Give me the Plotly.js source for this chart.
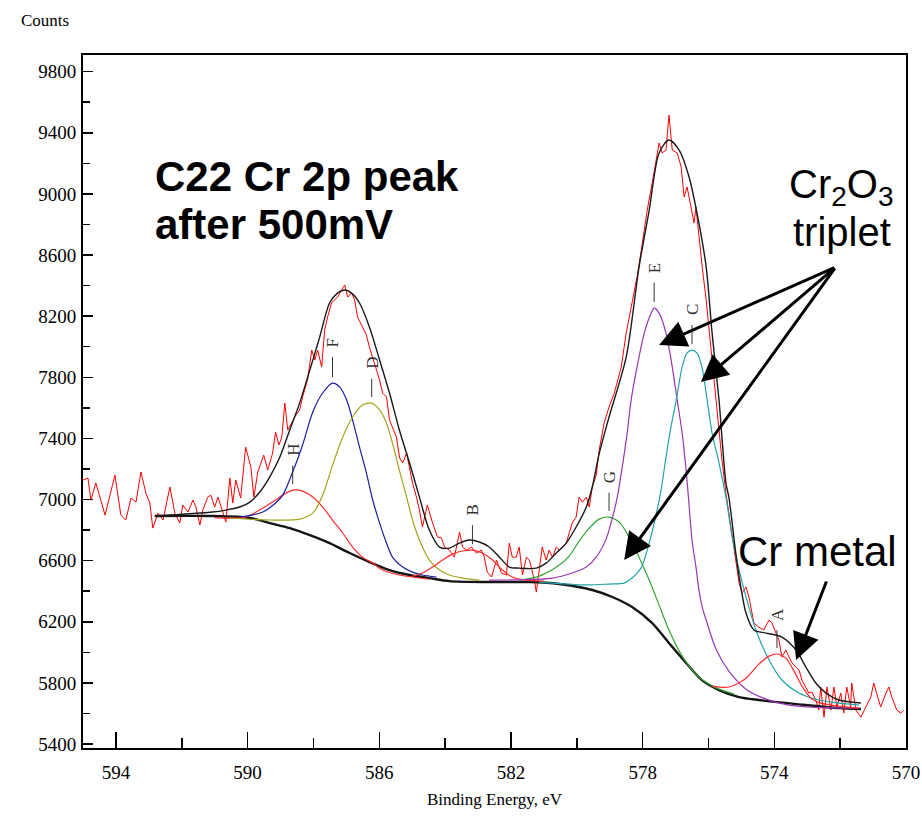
<!DOCTYPE html>
<html>
<head>
<meta charset="utf-8">
<script src="https://cdn.plot.ly/plotly-3.0.1.min.js"></script>
<style>html,body{margin:0;padding:0;background:#fff;}#chart{width:922px;height:818px;}</style>
</head>
<body>
<div id="chart"></div>
<script>
// Raw spectrum (binding energy eV, counts)
const rawX = [595.00,594.85,594.76,594.61,594.33,594.03,593.85,593.70,593.54,593.39,593.24,593.09,592.97,592.88,592.72,592.57,592.36,592.21,592.06,591.97,591.81,591.66,591.57,591.45,591.36,591.21,591.12,591.00,590.90,590.75,590.66,590.54,590.45,590.36,590.21,590.06,589.90,589.81,589.69,589.51,589.39,589.24,589.15,589.05,588.96,588.87,588.78,588.66,588.57,588.42,588.33,588.18,588.05,587.96,587.87,587.75,587.66,587.57,587.45,587.36,587.27,587.14,587.05,586.96,586.84,586.75,586.66,586.51,586.39,586.30,586.20,586.08,585.99,585.90,585.78,585.69,585.60,585.48,585.38,585.29,585.17,585.08,584.99,584.87,584.78,584.69,584.54,584.38,584.23,584.11,584.02,583.87,583.72,583.56,583.47,583.35,583.20,583.05,582.90,582.81,582.72,582.59,582.44,582.29,582.14,582.05,581.96,581.84,581.75,581.65,581.53,581.44,581.29,581.23,581.14,581.05,580.93,580.84,580.74,580.62,580.53,580.44,580.32,580.23,580.14,580.02,579.93,579.83,579.71,579.62,579.53,579.41,579.32,579.17,579.02,578.86,578.65,578.50,578.35,578.17,578.04,577.86,577.71,577.59,577.50,577.41,577.29,577.20,577.10,576.95,576.83,576.74,576.65,576.53,576.44,576.38,576.28,576.19,576.07,575.98,575.89,575.77,575.68,575.59,575.47,575.38,575.28,575.13,575.07,574.98,574.86,574.77,574.62,574.47,574.32,574.16,574.07,573.95,573.86,573.77,573.65,573.55,573.46,573.34,573.25,573.16,573.04,572.95,572.86,572.74,572.65,572.59,572.49,572.40,572.28,572.19,572.10,571.98,571.89,571.80,571.68,571.65,571.52,571.37,571.22,571.07,570.98,570.89,570.77,570.61,570.52,570.43,570.28,570.16,570.07];
const rawY = [7127,7141,6996,7108,6898,7160,6898,6866,7010,6983,7180,7042,6977,6813,6911,6866,7082,6911,6846,6964,6918,6996,6951,6833,6931,7016,7029,6951,7016,6918,6853,7141,6977,7127,7010,7343,7212,7016,7180,7291,7193,7304,7442,7357,7409,7631,7455,7501,7540,7586,7671,7782,7978,7913,7978,7867,8109,8194,8286,8306,8325,8371,8404,8325,8351,8306,8194,8129,8076,7998,7932,7847,7782,7697,7671,7520,7474,7409,7271,7239,7304,7193,7108,7016,6931,6820,6964,6846,6754,6748,6689,6669,6623,6787,6689,6669,6689,6650,6669,6623,6525,6493,6604,6519,6506,6715,6623,6623,6689,6506,6623,6604,6473,6394,6538,6689,6604,6669,6623,6689,6669,6689,6715,6781,6846,6885,7016,6983,7016,6951,7082,7160,7324,7500,7605,7697,7867,8089,8260,8456,8633,8895,9071,9222,9333,9268,9287,9516,9287,9268,9176,8980,9045,8914,8809,8914,8698,8521,8305,8089,7913,7651,7435,7258,7042,6911,6780,6538,6453,6388,6427,6362,6191,6165,6146,6211,6191,6126,6080,5969,6015,5969,5930,5903,5884,5818,5773,5733,5740,5688,5622,5773,5576,5773,5622,5773,5642,5733,5602,5773,5642,5799,5622,5576,5642,5707,5799,5733,5642,5733,5773,5707,5622,5602,5622];

// Fitted envelope
const envX = [592.82,591.06,590.66,590.24,589.93,589.63,589.33,589.02,588.72,588.42,588.11,587.81,587.51,587.27,587.05,586.84,586.60,586.30,585.99,585.69,585.39,585.08,584.78,584.48,584.17,583.87,583.57,583.26,582.96,582.66,582.35,582.05,581.75,581.23,580.93,580.62,580.32,580.02,579.71,579.53,579.32,579.02,578.50,578.11,577.80,577.50,577.20,576.89,576.59,576.29,576.07,575.89,575.68,575.47,575.38,575.13,574.86,574.62,574.25,573.77,573.34,573.04,572.74,572.43,572.04,571.37];
const envY = [6892,6918,6931,6951,6983,7049,7147,7278,7455,7631,7847,8063,8286,8351,8371,8351,8286,8129,7913,7697,7455,7239,7016,6800,6689,6682,6715,6735,6722,6689,6623,6558,6551,6551,6584,6650,6715,6820,6951,7082,7300,7540,7932,8521,8894,9268,9353,9287,9111,8809,8521,8089,7651,7108,7016,6584,6257,6146,6126,6100,6015,5903,5799,5733,5688,5668];

// Background
const bgX = [592.82,591.06,589.93,589.33,588.72,588.11,587.51,586.90,586.30,585.69,585.08,584.48,583.87,582.66,581.44,580.53,579.53,578.92,578.32,577.71,577.20,576.68,576.20,575.68,575.07,574.47,573.04,572.04,571.37];
const bgY = [6892,6892,6879,6846,6813,6767,6715,6650,6591,6538,6506,6486,6466,6460,6460,6447,6408,6362,6296,6191,6061,5930,5818,5753,5707,5688,5655,5635,5629];

// Components
const hX = [591.00,590.06,589.54,589.15,588.93,588.63,588.33,588.02,587.72,587.42,587.11,586.81,586.51,586.20,585.90,585.39,584.48];
const hY = [6882,6885,6944,6997,7029,7062,7055,7016,6951,6866,6781,6689,6623,6584,6539,6506,6479];
const fX = [590.24,589.54,589.15,588.93,588.63,588.33,588.02,587.72,587.42,587.20,586.99,586.81,586.60,586.39,586.20,585.99,585.78,585.60,585.29,584.99,584.69,584.26];
const fY = [6885,6918,6977,7029,7180,7357,7573,7697,7762,7736,7651,7520,7343,7173,6997,6846,6715,6623,6558,6525,6506,6493];
const dX = [590.54,589.33,588.42,588.02,587.72,587.42,587.11,586.81,586.51,586.23,585.99,585.78,585.60,585.39,585.17,584.99,584.78,584.48,584.17,583.87,583.47,582.96];
const dY = [6879,6866,6872,6911,7029,7225,7409,7540,7618,7631,7586,7500,7370,7193,7016,6866,6735,6604,6539,6506,6486,6473];
const bX = [585.08,584.69,584.38,584.08,583.78,583.47,583.17,582.87,582.56,582.26,581.96,581.59,580.99];
const bY = [6493,6519,6558,6604,6643,6663,6669,6650,6604,6539,6493,6473,6466];
const gX = [581.75,581.14,580.53,580.23,579.93,579.62,579.32,579.02,578.71,578.41,578.11,577.80,577.50,577.20,576.89,576.59,576.29,575.98,575.68,575.22];
const gY = [6473,6499,6571,6630,6728,6813,6872,6885,6852,6754,6623,6473,6309,6146,6008,5910,5838,5792,5759,5727];
const eX = [582.66,580.74,580.14,579.71,579.41,579.11,578.92,578.77,578.62,578.47,578.35,578.17,577.95,577.74,577.65,577.50,577.29,577.10,576.95,576.80,576.68,576.59,576.50,576.38,576.28,576.19,576.07,575.77,575.38,574.86,574.25,573.56,572.86,571.43];
const eY = [6473,6486,6519,6558,6623,6741,6879,7016,7212,7435,7651,7867,8089,8220,8253,8220,8089,7867,7651,7435,7193,6964,6735,6558,6394,6296,6211,6020,5877,5759,5694,5655,5642,5635];
const cX = [581.14,579.71,579.02,578.56,578.32,578.05,577.86,577.65,577.44,577.29,577.14,576.98,576.80,576.65,576.50,576.35,576.20,576.04,575.89,575.68,575.47,575.28,575.07,574.86,574.56,574.16,573.77,573.25,572.65,572.04,571.43];
const cY = [6460,6441,6447,6453,6486,6551,6669,6846,7062,7278,7474,7651,7867,7959,7978,7959,7867,7651,7435,7239,7016,6754,6539,6362,6146,5950,5819,5734,5688,5668,5655];
const aX = [575.89,575.38,574.86,574.47,574.16,573.92,573.65,573.40,573.16,572.86,572.59,572.04,571.43];
const aY = [5779,5773,5831,5923,5975,5989,5962,5877,5779,5694,5668,5648,5635];

const compNames = ['H','F','D','B','G','E','C','A'];
const compColors = ['#ff2a2a','#1c1ca0','#a3a31e','#ff2a2a','#33a533','#9b35b5','#22a3a8','#ff2a2a'];
const compData = [[hX,hY],[fX,fY],[dX,dY],[bX,bY],[gX,gY],[eX,eY],[cX,cY],[aX,aY]];

const xTicks = [594,590,586,582,578,574,570];

const serif = 'Liberation Serif, Times New Roman, serif';
const sans = 'Liberation Sans, Arial, sans-serif';

const traces = [];
traces.push({x: rawX, y: rawY, mode: 'lines', line: {color: '#ff0000', width: 1}, hoverinfo: 'skip'});
traces.push({x: bgX, y: bgY, mode: 'lines', line: {color: '#151515', width: 2.4, shape: 'spline', smoothing: 0.8}, hoverinfo: 'skip'});
compData.forEach((d, i) => {
  traces.push({x: d[0], y: d[1], mode: 'lines', line: {color: compColors[i], width: 1.2, shape: 'spline', smoothing: 0.8}, hoverinfo: 'skip'});
});
traces.push({x: envX, y: envY, mode: 'lines', line: {color: '#1a1a1a', width: 1.4, shape: 'spline', smoothing: 0.8}, hoverinfo: 'skip'});

const annotations = [];
// peak letter labels at each component's maximum
compData.forEach((d, i) => {
  let k = 0;
  d[1].forEach((v, j) => { if (v > d[1][k]) k = j; });
  annotations.push({
    x: d[0][k], y: d[1][k], xref: 'x', yref: 'y',
    text: compNames[i], textangle: -90, showarrow: true, arrowhead: 0,
    arrowwidth: 1, arrowcolor: '#333', ax: 0, ay: -40, standoff: 6, startstandoff: 8,
    font: {family: serif, size: 17, color: '#333'}
  });
});

const arrowStyle = {showarrow: true, arrowhead: 2, arrowsize: 1.8, arrowwidth: 3, arrowcolor: '#000', text: '', xref: 'x', yref: 'y', axref: 'x', ayref: 'y'};
annotations.push(Object.assign({}, arrowStyle, {x: 577.50, y: 8011, ax: 572.13, ay: 8522}));
annotations.push(Object.assign({}, arrowStyle, {x: 576.23, y: 7769, ax: 572.13, ay: 8522}));
annotations.push(Object.assign({}, arrowStyle, {x: 578.56, y: 6604, ax: 572.13, ay: 8522}));
annotations.push(Object.assign({}, arrowStyle, {x: 573.34, y: 5950, ax: 572.40, ay: 6473}));

annotations.push({xref: 'paper', yref: 'paper', x: 0.0851, y: 0.824, xanchor: 'left', yanchor: 'middle', showarrow: false,
  text: '<b>C22 Cr 2p peak</b>', font: {family: sans, size: 42, color: '#000'}});
annotations.push({xref: 'paper', yref: 'paper', x: 0.0851, y: 0.755, xanchor: 'left', yanchor: 'middle', showarrow: false,
  text: '<b>after 500mV</b>', font: {family: sans, size: 42, color: '#000'}});
annotations.push({xref: 'paper', yref: 'paper', x: 0.922, y: 0.810, xanchor: 'center', yanchor: 'middle', showarrow: false,
  text: 'Cr<sub>2</sub>O<sub>3</sub>', font: {family: sans, size: 40, color: '#000'}});
annotations.push({xref: 'paper', yref: 'paper', x: 0.922, y: 0.744, xanchor: 'center', yanchor: 'middle', showarrow: false,
  text: 'triplet', font: {family: sans, size: 40, color: '#000'}});
annotations.push({xref: 'paper', yref: 'paper', x: 0.8925, y: 0.284, xanchor: 'center', yanchor: 'middle', showarrow: false,
  text: 'Cr metal', font: {family: sans, size: 42, color: '#000'}});
annotations.push({xref: 'paper', yref: 'paper', x: -0.0462, y: 1.0505, xanchor: 'center', yanchor: 'middle', showarrow: false,
  text: 'Counts', font: {family: serif, size: 17, color: '#000'}});
annotations.push({xref: 'paper', yref: 'paper', x: 0.5, y: -0.075, xanchor: 'center', yanchor: 'middle', showarrow: false,
  text: 'Binding Energy, eV', font: {family: serif, size: 17, color: '#000'}});

const layout = {
  width: 922, height: 818,
  margin: {l: 83, r: 16, t: 55, b: 70, pad: 0},
  paper_bgcolor: '#fff', plot_bgcolor: '#fff',
  showlegend: false,
  font: {family: serif, color: '#000'},
  xaxis: {
    range: [595, 570], tickvals: xTicks, ticktext: xTicks.map(String),
    ticks: 'inside', ticklen: 16, tickwidth: 1.5, tickcolor: '#000',
    minor: {dtick: 2, tick0: 570, ticks: 'inside', ticklen: 10, tickwidth: 1.5, tickcolor: '#000'},
    showline: true, linewidth: 2, linecolor: '#000', mirror: true,
    showgrid: false, zeroline: false, ticklabelstandoff: 6,
    tickfont: {family: serif, size: 19, color: '#000'}
  },
  yaxis: {
    range: [5374, 9909], tick0: 5400, dtick: 400, tickformat: 'd',
    ticks: 'inside', ticklen: 10, tickwidth: 1.5, tickcolor: '#000',
    minor: {dtick: 200, tick0: 5400, ticks: 'inside', ticklen: 7, tickwidth: 1.5, tickcolor: '#000'},
    showline: true, linewidth: 2, linecolor: '#000', mirror: true,
    showgrid: false, zeroline: false, ticklabelstandoff: 1,
    tickfont: {family: serif, size: 19, color: '#000'}
  },
  annotations: annotations
};

Plotly.newPlot('chart', traces, layout, {displayModeBar: false, staticPlot: true});
</script>
</body>
</html>
